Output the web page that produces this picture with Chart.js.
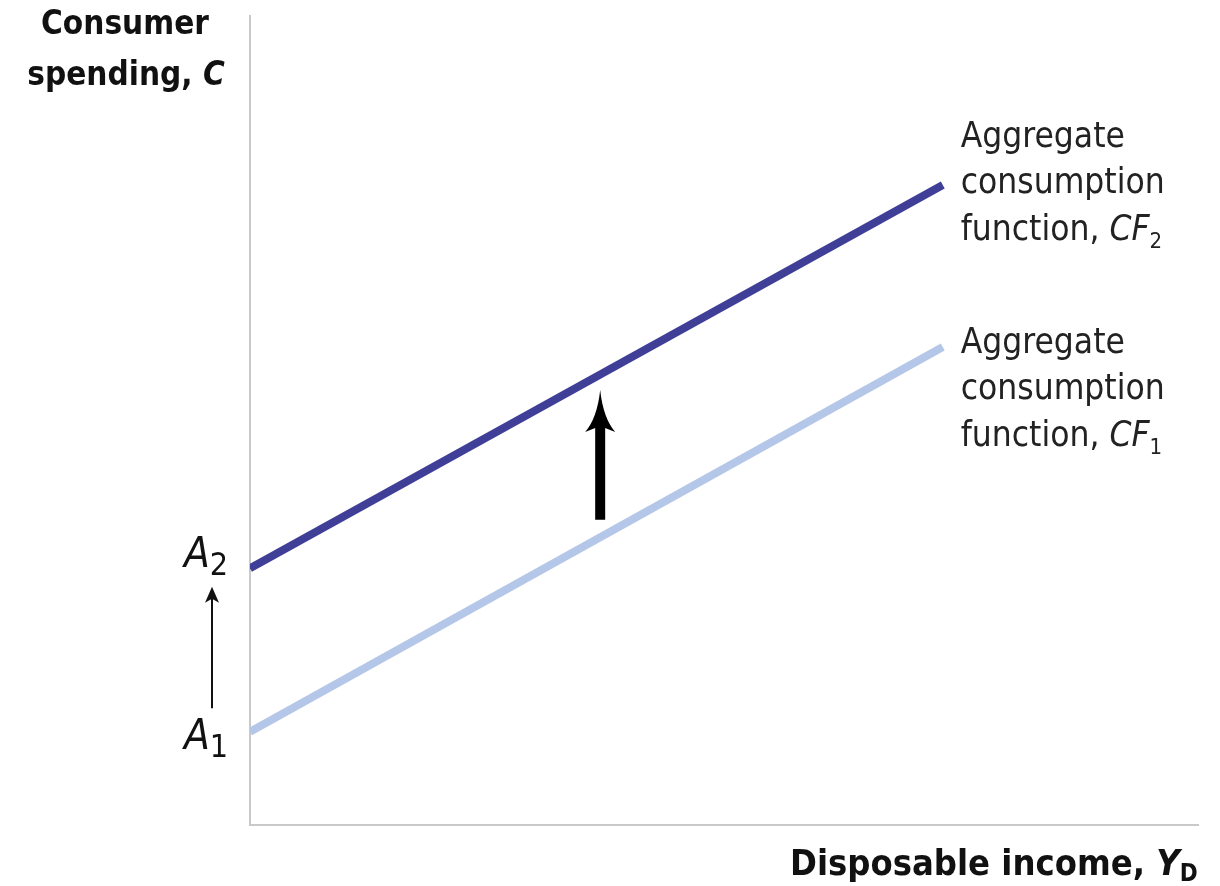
<!DOCTYPE html>
<html>
<head>
<meta charset="utf-8">
<script src="https://cdn.jsdelivr.net/npm/chart.js@4.4.0/dist/chart.umd.min.js"></script>
<style>
  html, body { margin: 0; padding: 0; background: #fff; }
  #wrap { width: 1220px; height: 886px; }
</style>
</head>
<body>
<div id="wrap"><canvas id="cf" width="1220" height="886"></canvas></div>
<script>
// consumption function data (x = disposable income, y = consumer spending)
const incomeX = [0, 7.3];
const cf1Values = [1.15, 5.9];
const cf2Values = [3.17, 7.9];
const lineNames = ["CF1", "CF2"];
const lineSubs = ["1", "2"];
const lineColors = ["#b5c7e8", "#3f3f98"];

// shift arrows (x, from y, to y)
const bigArrow = [3.69, 3.77, 5.37];
const smallArrow = [1.44, 2.94];

const FAM = "'DejaVu Sans Condensed'";

function pts(ys) {
  return ys.map((y, i) => ({ x: incomeX[i], y: y }));
}

// draws mixed text pieces, returns end x
function drawPieces(ctx, pieces, x, y) {
  let cx = x;
  pieces.forEach((p) => {
    ctx.font = p.font;
    ctx.fillText(p.text, cx, y + (p.dy || 0));
    cx += ctx.measureText(p.text).width;
  });
  return cx;
}

function piecesWidth(ctx, pieces) {
  let w = 0;
  pieces.forEach((p) => {
    ctx.font = p.font;
    w += ctx.measureText(p.text).width;
  });
  return w;
}

const extras = {
  id: "extras",
  beforeDatasetsDraw(chart) {
    const ctx = chart.ctx;
    const a = chart.chartArea;
    ctx.save();
    ctx.strokeStyle = "#c9c9c9";
    ctx.lineWidth = 2;
    ctx.beginPath();
    ctx.moveTo(a.left, a.top);
    ctx.lineTo(a.left, a.bottom);
    ctx.lineTo(a.right, a.bottom);
    ctx.stroke();
    ctx.restore();
  },
  afterDraw(chart) {
    const ctx = chart.ctx;
    const xs = chart.scales.x;
    const ys = chart.scales.y;
    const a = chart.chartArea;
    ctx.save();
    ctx.fillStyle = "#111";
    ctx.textBaseline = "alphabetic";
    ctx.textAlign = "left";

    // y axis title
    const bold = "bold 33px " + FAM;
    ctx.font = bold;
    const w1 = ctx.measureText("Consumer").width;
    ctx.fillText("Consumer", 125 - w1 / 2, 34);
    const sp = [
      { text: "spending, ", font: bold },
      { text: "C", font: "italic bold 33px " + FAM },
    ];
    drawPieces(ctx, sp, 126 - piecesWidth(ctx, sp) / 2, 85);

    // x axis title (clipped at the right like the source)
    ctx.save();
    ctx.beginPath();
    ctx.rect(0, 830, 1211, 56);
    ctx.clip();
    drawPieces(ctx, [
      { text: "Disposable income, ", font: "bold 36px " + FAM },
      { text: "Y", font: "italic bold 36px " + FAM },
      { text: "D", font: "bold 24px " + FAM, dy: 6 },
    ], 790, 875);
    ctx.restore();

    // line labels at right end
    const lblFont = "35px " + FAM;
    const offsets = [6, -38];
    [cf1Values, cf2Values].forEach((vals, i) => {
      const ex = xs.getPixelForValue(incomeX[1]);
      const ey = ys.getPixelForValue(vals[1]);
      const tx = ex + 18;
      const by = ey + offsets[i];
      ctx.fillStyle = "#222";
      ctx.font = lblFont;
      ctx.fillText("Aggregate", tx, by);
      ctx.fillText("consumption", tx, by + 46);
      drawPieces(ctx, [
        { text: "function, ", font: lblFont },
        { text: "CF", font: "italic 35px " + FAM },
        { text: lineSubs[i], font: "22px " + FAM, dy: 8 },
      ], tx, by + 93);
    });

    // intercept labels A1, A2
    ctx.fillStyle = "#111";
    [[cf1Values[0], "1", 17], [cf2Values[0], "2", -1]].forEach(([v, sub, off]) => {
      const py = ys.getPixelForValue(v) + off;
      drawPieces(ctx, [
        { text: "A", font: "italic 42px " + FAM },
        { text: sub, font: "32px " + FAM, dy: 8 },
      ], 184, py);
    });

    // small arrow from A1 to A2
    const sx = a.left - 38;
    const sy0 = ys.getPixelForValue(smallArrow[0]);
    const sy1 = ys.getPixelForValue(smallArrow[1]);
    ctx.strokeStyle = "#111";
    ctx.lineWidth = 2;
    ctx.beginPath();
    ctx.moveTo(sx, sy0);
    ctx.lineTo(sx, sy1 + 10);
    ctx.stroke();
    ctx.beginPath();
    ctx.moveTo(sx, sy1);
    ctx.lineTo(sx - 7, sy1 + 16);
    ctx.lineTo(sx, sy1 + 12);
    ctx.lineTo(sx + 7, sy1 + 16);
    ctx.closePath();
    ctx.fill();

    // big shift arrow
    const bx = xs.getPixelForValue(bigArrow[0]);
    const by0 = ys.getPixelForValue(bigArrow[1]);
    const by1 = ys.getPixelForValue(bigArrow[2]);
    ctx.fillStyle = "#000";
    ctx.beginPath();
    ctx.moveTo(bx, by1);
    ctx.quadraticCurveTo(bx - 3, by1 + 28, bx - 15, by1 + 42);
    ctx.lineTo(bx - 5, by1 + 38);
    ctx.lineTo(bx - 5, by0);
    ctx.lineTo(bx + 5, by0);
    ctx.lineTo(bx + 5, by1 + 38);
    ctx.lineTo(bx + 15, by1 + 42);
    ctx.quadraticCurveTo(bx + 3, by1 + 28, bx, by1);
    ctx.closePath();
    ctx.fill();

    ctx.restore();
  },
};

new Chart(document.getElementById("cf"), {
  type: "line",
  data: {
    datasets: [
      {
        label: lineNames[0],
        data: pts(cf1Values),
        borderColor: lineColors[0],
        borderWidth: 8,
        pointRadius: 0,
        borderCapStyle: "butt",
      },
      {
        label: lineNames[1],
        data: pts(cf2Values),
        borderColor: lineColors[1],
        borderWidth: 8,
        pointRadius: 0,
        borderCapStyle: "butt",
      },
    ],
  },
  options: {
    responsive: false,
    animation: false,
    layout: { padding: { left: 250, right: 21, top: 15, bottom: 61 } },
    plugins: { legend: { display: false }, tooltip: { enabled: false } },
    scales: {
      x: { type: "linear", min: 0, max: 10, display: false },
      y: { type: "linear", min: 0, max: 10, display: false },
    },
  },
  plugins: [extras],
});
</script>
</body>
</html>
